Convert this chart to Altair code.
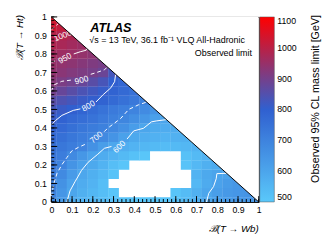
import altair as alt
import pandas as pd

# ---------------- data ----------------
STEP = 0.05
# Observed 95% CL mass limit [GeV]; row name = B(T->Ht) (x100),
# entries at B(T->Wb) = 0, 0.05, 0.10, ... up to 1 - B(T->Ht). Values < 500 are not shown.
lim_ht000 = [690, 630, 580, 560, 545, 535, 525, 515, 510, 505, 505, 510, 520, 540, 570, 595, 615, 630, 640, 645, 650]
lim_ht005 = [700, 645, 598, 570, 550, 530, 510, 490, 480, 475, 478, 488, 510, 535, 565, 598, 620, 635, 645, 650]
lim_ht010 = [705, 655, 610, 580, 560, 530, 495, 485, 475, 470, 470, 472, 478, 485, 545, 585, 610, 628, 640]
lim_ht015 = [715, 680, 630, 595, 570, 545, 515, 490, 480, 472, 470, 472, 478, 488, 560, 590, 605, 606]
lim_ht020 = [730, 700, 650, 615, 590, 560, 530, 510, 490, 482, 478, 480, 488, 515, 545, 570, 585]
lim_ht025 = [740, 715, 680, 640, 608, 580, 560, 540, 520, 505, 490, 485, 488, 520, 540, 560]
lim_ht030 = [755, 735, 715, 695, 660, 620, 595, 575, 560, 550, 540, 535, 540, 550, 560]
lim_ht035 = [775, 755, 735, 715, 703, 680, 650, 612, 590, 575, 565, 560, 565, 570]
lim_ht040 = [795, 775, 755, 735, 720, 705, 685, 660, 625, 598, 585, 580, 580]
lim_ht045 = [815, 795, 775, 760, 745, 725, 708, 690, 665, 640, 615, 600]
lim_ht050 = [830, 815, 802, 785, 765, 745, 725, 710, 695, 675, 650]
lim_ht055 = [860, 845, 830, 815, 805, 790, 770, 750, 730, 705]
lim_ht060 = [898, 880, 860, 840, 825, 808, 790, 770, 750]
lim_ht065 = [925, 910, 895, 880, 860, 835, 802, 780]
lim_ht070 = [940, 930, 920, 912, 903, 885, 830]
lim_ht075 = [948, 942, 935, 925, 915, 905]
lim_ht080 = [965, 958, 952, 945, 935]
lim_ht085 = [985, 975, 965, 955]
lim_ht090 = [995, 990, 980]
lim_ht095 = [1030, 1010]
lim_ht100 = [1060]
ht_rows = [lim_ht000, lim_ht005, lim_ht010, lim_ht015, lim_ht020, lim_ht025, lim_ht030,
           lim_ht035, lim_ht040, lim_ht045, lim_ht050, lim_ht055, lim_ht060, lim_ht065,
           lim_ht070, lim_ht075, lim_ht080, lim_ht085, lim_ht090, lim_ht095, lim_ht100]

# contour lines (B(T->Wb), B(T->Ht)), split where the level label sits
c1000_x = [0.0, 0.035];                       c1000_y = [0.93, 0.965]
c950a_x = [0.0, 0.018];                       c950a_y = [0.755, 0.762]
c950b_x = [0.108, 0.14, 0.168, 0.17];         c950b_y = [0.80, 0.812, 0.82, 0.83]
c900a_x = [0.0, 0.012, 0.05, 0.105];          c900a_y = [0.60, 0.632, 0.652, 0.66]
c900b_x = [0.19, 0.208, 0.256, 0.27];         c900b_y = [0.69, 0.696, 0.714, 0.73]
c800a_x = [0.0, 0.02, 0.051, 0.106, 0.14];    c800a_y = [0.416, 0.44, 0.468, 0.495, 0.503]
c800b_x = [0.215, 0.25, 0.287, 0.305, 0.31];  c800b_y = [0.54, 0.58, 0.617, 0.65, 0.69]
c700a_x = [0.0, 0.012, 0.027, 0.05, 0.075, 0.098, 0.13, 0.17]
c700a_y = [0.03, 0.10, 0.153, 0.20, 0.24, 0.275, 0.295, 0.315]
c700b_x = [0.255, 0.271, 0.334, 0.373, 0.42, 0.46]
c700b_y = [0.38, 0.398, 0.451, 0.50, 0.525, 0.54]
c600a_x = [0.075, 0.09, 0.114, 0.13, 0.145, 0.177, 0.224, 0.256, 0.29]
c600a_y = [0.0, 0.06, 0.109, 0.14, 0.17, 0.214, 0.258, 0.29, 0.30]
c600b_x = [0.365, 0.397, 0.444, 0.483, 0.507, 0.555]
c600b_y = [0.34, 0.384, 0.398, 0.433, 0.438, 0.445]
c600c_x = [0.748, 0.759, 0.782, 0.795, 0.798, 0.845]
c600c_y = [0.0, 0.047, 0.083, 0.126, 0.153, 0.155]

solid_segments = [(c950a_x, c950a_y), (c950b_x, c950b_y), (c800a_x, c800a_y), (c800b_x, c800b_y),
                  (c600a_x, c600a_y), (c600b_x, c600b_y), (c600c_x, c600c_y)]
dashed_segments = [(c1000_x, c1000_y), (c900a_x, c900a_y), (c900b_x, c900b_y),
                   (c700a_x, c700a_y), (c700b_x, c700b_y)]

label_text = ["1000", "950", "900", "800", "700", "600"]
label_x = [0.055, 0.065, 0.145, 0.178, 0.216, 0.327]
label_y = [0.90, 0.778, 0.66, 0.52, 0.35, 0.30]
label_angle = [338, 330, 345, 330, 320, 315]

tick_values = [0, 0.1, 0.2, 0.3, 0.4, 0.5, 0.6, 0.7, 0.8, 0.9, 1]
minor_values = [round(0.02 * i, 2) for i in range(51)]
legend_values = [500, 600, 700, 800, 900, 1000, 1100]
color_stops = [500, 800, 1100]
color_range = ["#5ac8fa", "#3060d0", "#ff0000"]

diag_x = [0.0, 1.0]
diag_y = [1.0, 0.0]

# ---------------- build ----------------
W, H = 213, 190
FONT = "Liberation Sans"
HALF = STEP / 2 + 0.0008   # tiny overlap hides seams between cells

cells = []
for k, row in enumerate(ht_rows):
    for i, v in enumerate(row):
        cells.append({"wb": round(i * STEP, 3), "ht": round(k * STEP, 3), "limit": v})
heat_df = pd.DataFrame(cells)

def seg_df(segs):
    rows = []
    for s, (xs, ys) in enumerate(segs):
        for j, (a, b) in enumerate(zip(xs, ys)):
            rows.append({"x": a, "y": b, "seg": s, "o": j})
    return pd.DataFrame(rows)

XS = alt.Scale(domain=[0, 1], nice=False, zero=False)
YS = alt.Scale(domain=[0, 1], nice=False, zero=False)
XAX = alt.Axis(values=tick_values, format="~g", title=None, ticks=False, domain=False, grid=False,
               labelFont=FONT, labelFontSize=9, labelColor="black", labelPadding=4, labelFlush=False)
YAX = alt.Axis(values=tick_values, format="~g", title=None, ticks=False, domain=False, grid=False,
               labelFont=FONT, labelFontSize=9, labelColor="black", labelPadding=5, labelFlush=False)
CS = alt.Scale(domain=color_stops, range=color_range, interpolate="rgb", clamp=True)

heat = alt.Chart(heat_df).transform_filter("datum.limit >= 500").transform_calculate(
    x0=f"datum.wb - {HALF}", x1=f"datum.wb + {HALF}", y0=f"datum.ht - {HALF}", y1=f"datum.ht + {HALF}"
).mark_rect(clip=True).encode(
    x=alt.X("x0:Q", scale=XS, axis=XAX), x2="x1:Q",
    y=alt.Y("y0:Q", scale=YS, axis=YAX), y2="y1:Q",
    color=alt.Color("limit:Q", scale=CS, legend=alt.Legend(
        type="gradient", orient="none", legendX=214, legendY=0, direction="vertical", title=None,
        gradientLength=H, gradientThickness=15, values=legend_values, format="d",
        labelFont=FONT, labelFontSize=9, labelColor="black", labelOffset=3, labelOverlap=False,
        gradientStrokeColor="#555", gradientStrokeWidth=0.5, padding=0, offset=0)),
)

diag_df = pd.DataFrame({"x": diag_x, "y": diag_y})
tri = alt.Chart(diag_df).transform_calculate(top="1").mark_area(color="white", clip=True).encode(
    x=alt.X("x:Q", scale=XS, axis=XAX), y=alt.Y("y:Q", scale=YS, axis=YAX), y2="top:Q")
diag = alt.Chart(diag_df).mark_line(color="black", strokeWidth=1).encode(
    x=alt.X("x:Q", scale=XS, axis=XAX), y=alt.Y("y:Q", scale=YS, axis=YAX))

solid = alt.Chart(seg_df(solid_segments)).mark_line(color="white", strokeWidth=1, clip=True).encode(
    x=alt.X("x:Q", scale=XS, axis=XAX), y=alt.Y("y:Q", scale=YS, axis=YAX),
    detail="seg:N", order="o:Q")
dashed = alt.Chart(seg_df(dashed_segments)).mark_line(color="white", strokeWidth=1, strokeDash=[4, 3],
                                                     clip=True).encode(
    x=alt.X("x:Q", scale=XS, axis=XAX), y=alt.Y("y:Q", scale=YS, axis=YAX),
    detail="seg:N", order="o:Q")

lab_df = pd.DataFrame({"t": label_text, "x": label_x, "y": label_y, "a": label_angle})
labels = alt.Chart(lab_df).mark_text(color="white", font=FONT, fontSize=8.5, baseline="middle",
                                      align="center").encode(
    x=alt.X("x:Q", scale=XS, axis=XAX), y=alt.Y("y:Q", scale=YS, axis=YAX),
    text="t:N", angle=alt.Angle("a:Q", scale=None))

major_df = pd.DataFrame({"v": tick_values})
minor_df = pd.DataFrame({"v": minor_values})
xt_major = alt.Chart(major_df).mark_rule(color="black").encode(
    x=alt.X("v:Q", scale=XS, axis=XAX), y=alt.value(H), y2=alt.value(H - 6))
xt_minor = alt.Chart(minor_df).mark_rule(color="black").encode(
    x=alt.X("v:Q", scale=XS, axis=XAX), y=alt.value(H), y2=alt.value(H - 3))
yt_major = alt.Chart(major_df).mark_rule(color="black").encode(
    y=alt.Y("v:Q", scale=YS, axis=YAX), x=alt.value(0), x2=alt.value(6))
yt_minor = alt.Chart(minor_df).mark_rule(color="black").encode(
    y=alt.Y("v:Q", scale=YS, axis=YAX), x=alt.value(0), x2=alt.value(3))

def txt(s, x, y, **kw):
    return alt.Chart(pd.DataFrame({"t": [s]})).mark_text(font=FONT, color="black", **kw).encode(
        text="t:N", x=alt.value(x), y=alt.value(y))

atlas = txt("ATLAS", 40, 15, fontSize=13, fontWeight="bold", fontStyle="italic", align="left",
            baseline="alphabetic")
sub = txt("√s = 13 TeV, 36.1 fb⁻¹ VLQ All-Hadronic", 39, 27, fontSize=9.2, align="left",
          baseline="alphabetic")
obs = txt("Observed limit", 206, 40, fontSize=9.2, align="right", baseline="alphabetic")
xtitle = txt("ℬ(T → Wb)", W, H + 31, fontSize=10, fontStyle="italic", align="right",
             baseline="alphabetic")
ytitle = txt("ℬ(T → Ht)", -32, -2, fontSize=10, fontStyle="italic", align="right", baseline="middle",
             angle=270)
ctitle = txt("Observed 95% CL mass limit [GeV]", 271.5, -2, fontSize=11, align="right",
             baseline="middle", angle=270)

chart = alt.layer(
    heat, tri, solid, dashed, labels, diag, xt_major, xt_minor, yt_major, yt_minor,
    atlas, sub, obs, xtitle, ytitle, ctitle
).properties(
    width=W, height=H,
    padding={"left": 44.5, "top": 6, "right": 67, "bottom": 40},
    autosize=alt.AutoSizeParams(type="none"),
).configure(font=FONT).configure_view(stroke="black", strokeWidth=1)

chart.save("out.html", embed_options={"renderer": "svg", "actions": False})
